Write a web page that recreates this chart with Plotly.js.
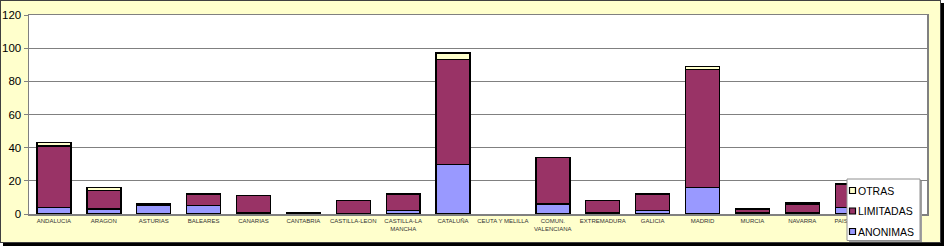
<!DOCTYPE html>
<html>
<head>
<meta charset="utf-8">
<script src="https://cdn.plot.ly/plotly-3.0.1.min.js"></script>
<style>
  html, body { margin:0; padding:0; background:#ffffff; }
  #frame { position:absolute; left:0; top:0; width:939px; height:241px;
           border:1px solid #404040; box-shadow:3px 3px 0 #000; background:#FFFFCC; }
  #chart { width:939px; height:241px; }
</style>
</head>
<body>
<div id="frame"><div id="chart"></div></div>
<script>
const categories = ["ANDALUCIA","ARAGON","ASTURIAS","BALEARES","CANARIAS","CANTABRIA",
  "CASTILLA-LEON","CASTILLA-LA<br>MANCHA","CATALUÑA","CEUTA Y MELILLA","COMUN.<br>VALENCIANA",
  "EXTREMADURA","GALICIA","MADRID","MURCIA","NAVARRA","PAIS VASCO","LA RIOJA"];
const anonimas  = [4, 3, 5, 5, 1, 0, 0, 2, 30, 0, 6, 1, 2, 16, 1, 1, 4, 0];
const limitadas = [37, 11, 1, 7, 10, 1, 8, 10, 63, 0, 28, 7, 10, 71, 2, 5, 14, 2];
const otras     = [2, 2, 0, 0, 0, 0, 0, 0, 4, 0, 0, 0, 0, 2, 0, 1, 0, 0];
const seriesNames = ["ANONIMAS", "LIMITADAS", "OTRAS"];
const yTicks = [0, 20, 40, 60, 80, 100, 120];

const colors = ['#9999FF', '#993366', '#FFFFCC'];
const values = [anonimas, limitadas, otras];

function outline(vals) {
  return {color:'#000000', width: vals.map(v => v > 0 ? 1.4 : 0)};
}
const traces = values.map((vals, i) => ({
  type:'bar', name:seriesNames[i], x:categories, y:vals,
  marker:{color:colors[i], line:outline(vals)}
}));

// plot-area pixel geometry (inside the chart div)
const W = 939, H = 241, ML = 28, MR = 13, MT = 14, MB = 28;
const PW = W - ML - MR, PH = H - MT - MB;
const px = x => (x - ML) / PW;           // pixel x -> paper x
const py = y => (H - MB - y) / PH;       // pixel y -> paper y

// legend box drawn on top (order: OTRAS, LIMITADAS, ANONIMAS)
const shapes = [
  {type:'rect', xref:'paper', yref:'paper', layer:'above',
   x0:px(848), x1:px(921), y0:py(241), y1:py(180),
   fillcolor:'#A0A0A0', line:{width:0}},
  {type:'rect', xref:'paper', yref:'paper', layer:'above',
   x0:px(846), x1:px(919), y0:py(239.5), y1:py(178),
   fillcolor:'#FFFFFF', line:{color:'#909090', width:1}}
];
const annotations = [];
const legendRows = [2, 1, 0];
const rowY = [189.5, 210, 230.5];
legendRows.forEach((s, k) => {
  const cy = rowY[k];
  shapes.push({type:'rect', xref:'paper', yref:'paper', layer:'above',
    x0:px(848.5), x1:px(854.5), y0:py(cy + 3), y1:py(cy - 3),
    fillcolor:colors[s], line:{color:'#000', width:1.2}});
  annotations.push({xref:'paper', yref:'paper', x:px(855), y:py(cy),
    xanchor:'left', yanchor:'middle', showarrow:false, text:seriesNames[s],
    font:{size:10.5, color:'#000', family:'Liberation Sans, Arial, sans-serif'}});
});

const layout = {
  width:W, height:H,
  margin:{l:ML, r:MR, t:MT, b:MB, autoexpand:false},
  paper_bgcolor:'#FFFFCC', plot_bgcolor:'#FFFFFF',
  barmode:'stack', bargap:0.32,
  font:{family:'Liberation Sans, Arial, sans-serif', color:'#000'},
  xaxis:{type:'category', tickfont:{size:6, color:'#333'}, ticks:'', showgrid:false,
         showline:true, linecolor:'#808080', linewidth:1.5, mirror:true, tickangle:0,
         automargin:false},
  yaxis:{range:[0,120], tickvals:yTicks, ticktext:yTicks.map(String),
         tickfont:{size:11.5, color:'#000'}, ticks:'outside', ticklen:4, tickcolor:'#808080',
         showgrid:true, gridcolor:'#808080', gridwidth:1, zeroline:false,
         showline:true, linecolor:'#808080', linewidth:1.5, mirror:true, automargin:false},
  showlegend:false,
  shapes:shapes,
  annotations:annotations
};

Plotly.newPlot('chart', traces, layout, {displayModeBar:false, staticPlot:true});
</script>
</body>
</html>
